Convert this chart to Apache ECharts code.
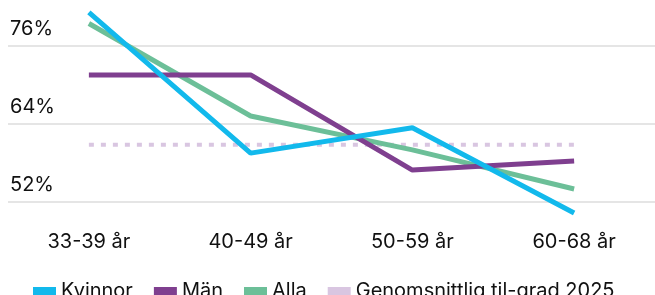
<!DOCTYPE html>
<html><head><meta charset="utf-8">
<script src="https://cdn.jsdelivr.net/npm/echarts@6/dist/echarts.min.js"></script>
<style>html,body{margin:0;padding:0;background:#fff}#c{width:655px;height:295px}</style>
</head><body><div id="c"></div>
<script>
const categories = ['33-39 år', '40-49 år', '50-59 år', '60-68 år'];
const kvinnor = [81.1, 59.5, 63.4, 50.3];
const man = [71.5, 71.5, 56.9, 58.3];
const alla = [79.4, 65.2, 60.0, 54.0];
const genomsnitt = [60.8, 60.8, 60.8, 60.8];
const yTicks = [52, 64, 76];
const yMax = 83;

const FONT = 'Inter';
const chart = echarts.init(document.getElementById('c'));
chart.setOption({
  animation: false,
  textStyle: { fontFamily: FONT },
  grid: { left: 8, right: 0, top: 0, bottom: 93 },
  xAxis: {
    type: 'category', data: categories, boundaryGap: true,
    axisLine: { show: false }, axisTick: { show: false },
    axisLabel: { color: '#111', fontSize: 20, fontFamily: FONT, margin: 30 }
  },
  yAxis: {
    type: 'value', min: yTicks[0], max: yMax, interval: 12,
    axisLine: { show: false }, axisTick: { show: false },
    splitLine: { lineStyle: { color: ['#dcdcdc', '#dcdcdc', '#dcdcdc', 'rgba(0,0,0,0)'], width: 1.5 } },
    axisLabel: {
      inside: true, margin: 2, color: '#111', fontSize: 20, fontFamily: FONT,
      verticalAlign: 'bottom', padding: [0, 0, 7, 0],
      formatter: v => (yTicks.indexOf(v) >= 0 ? v + '%' : '')
    }
  },
  legend: {
    data: ['Kvinnor', 'Män', 'Alla', 'Genomsnittlig til-grad 2025'],
    top: 276, left: 28, itemWidth: 23, itemHeight: 8, itemGap: 21, icon: 'rect',
    textStyle: { color: '#111', fontSize: 20, fontFamily: FONT, padding: [0, 0, 0, 0] }
  },
  series: [
    { name: 'Genomsnittlig til-grad 2025', type: 'line', data: genomsnitt, symbol: 'none', clip: false,
      color: '#d9c6e1', lineStyle: { width: 4, type: [5, 7], color: '#d9c6e1' } },
    { name: 'Alla', type: 'line', data: alla, symbol: 'none', clip: false,
      color: '#6cbf98', lineStyle: { width: 5, color: '#6cbf98' } },
    { name: 'Män', type: 'line', data: man, symbol: 'none', clip: false,
      color: '#7f3f8f', lineStyle: { width: 5, color: '#7f3f8f' } },
    { name: 'Kvinnor', type: 'line', data: kvinnor, symbol: 'none', clip: false,
      color: '#12b9ec', lineStyle: { width: 5, color: '#12b9ec' } }
  ]
});
</script></body></html>
